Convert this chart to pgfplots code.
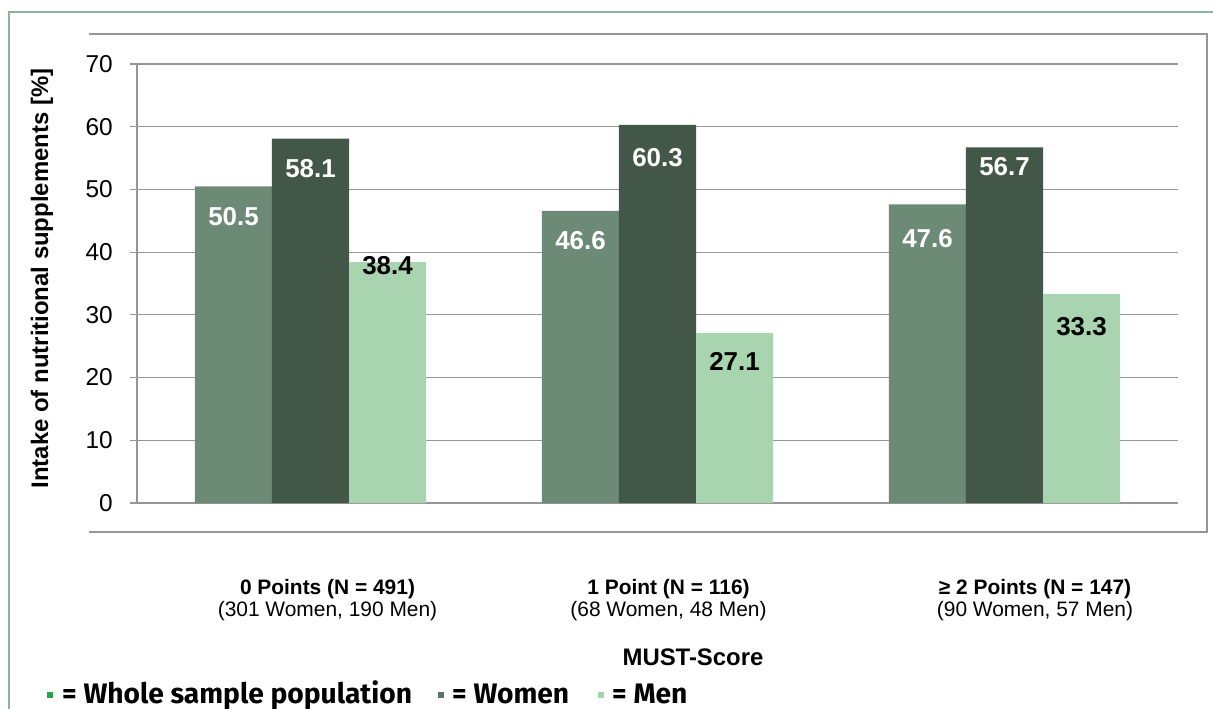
\documentclass[border=0pt]{standalone}
\usepackage{fontspec}
\setmainfont{Liberation Sans}
\newfontfamily\legfont{Fira Sans}
\usepackage{pgfplots}
\pgfplotsset{compat=1.18}
\definecolor{cWhole}{RGB}{108,138,118}
\definecolor{cWomen}{RGB}{66,87,72}
\definecolor{cMen}{RGB}{168,213,176}
\definecolor{cGrid}{RGB}{150,150,150}
\definecolor{cFrame}{RGB}{150,150,150}
\definecolor{cGreen}{RGB}{140,178,152}
\definecolor{cLeg}{RGB}{40,165,75}
\begin{document}
\begin{tikzpicture}[x=1bp,y=1bp]
\draw[cGreen, line width=1.5bp] (9,-709) -- (9,-12) -- (1213,-12);
\draw[cFrame, line width=1.5bp] (89,-34) -- (1207,-34) -- (1207,-532) -- (89,-532);
\begin{axis}[
  at={(137bp,-503bp)}, anchor=south west,
  scale only axis, width=1041bp, height=439bp,
  xmin=-0.5, xmax=2.5, ymin=0, ymax=70,
  axis x line*=bottom, axis y line*=left,
  axis line style={cGrid, line width=1.2bp, -},
  ytick={0,10,...,70}, ymajorgrids,
  grid style={cGrid, line width=1.2bp},
  tick align=outside, major tick length=7bp,
  ytick style={cGrid, line width=1.2bp},
  xtick=\empty,
  yticklabel style={font=\fontsize{24.5}{24.5}\selectfont, inner sep=0pt, xshift=-17bp},
  /pgf/number format/assume math mode=true,
  clip=false,
  ybar, bar width=0.222,
]
\addplot[fill=cWhole, draw=none, bar shift=-0.222] coordinates {(0,50.5) (1,46.6) (2,47.6)};
\addplot[fill=cWomen, draw=none, bar shift=0] coordinates {(0,58.1) (1,60.3) (2,56.7)};
\addplot[fill=cMen, draw=none, bar shift=0.222] coordinates {(0,38.4) (1,27.1) (2,33.3)};
\begin{scope}[every node/.style={font=\bfseries\fontsize{26}{26}\selectfont, inner sep=0pt}]
\node[white] at (axis cs:-0.222,45.6) {50.5};
\node[white] at (axis cs:0,53.4) {58.1};
\node[black] at (axis cs:0.222,37.8) {38.4};
\node[white] at (axis cs:0.778,41.9) {46.6};
\node[white] at (axis cs:1,55.0) {60.3};
\node[black] at (axis cs:1.222,22.6) {27.1};
\node[white] at (axis cs:1.778,42.1) {47.6};
\node[white] at (axis cs:2,53.7) {56.7};
\node[black] at (axis cs:2.222,28.2) {33.3};
\end{scope}
\end{axis}
\node[rotate=90, font=\bfseries\fontsize{24}{24}\selectfont, inner sep=0pt] at (42,-278.5) {Intake of nutritional supplements [\%]};
\begin{scope}[every node/.style={inner sep=0pt, anchor=base}]
\node[font=\bfseries\fontsize{21}{21}\selectfont] at (327.5,-594) {0 Points (N = 491)};
\node[font=\fontsize{21}{21}\selectfont] at (327.5,-616) {(301 Women, 190 Men)};
\node[font=\bfseries\fontsize{21}{21}\selectfont] at (668.5,-594) {1 Point (N = 116)};
\node[font=\fontsize{21}{21}\selectfont] at (668.5,-616) {(68 Women, 48 Men)};
\node[font=\bfseries\fontsize{21}{21}\selectfont] at (1035,-594) {≥ 2 Points (N = 147)};
\node[font=\fontsize{21}{21}\selectfont] at (1035,-616) {(90 Women, 57 Men)};
\node[font=\bfseries\fontsize{24}{24}\selectfont] at (693,-665) {MUST-Score};
\end{scope}
\begin{scope}[every node/.style={inner sep=0pt}]
\node[fill=cLeg, minimum size=6bp] at (50,-695) {};
\node[anchor=base west, font=\legfont\bfseries\fontsize{28.3}{28}\selectfont] at (62,-703) {= Whole sample population};
\node[fill=cWomen!85!white, minimum size=6bp] at (441,-695) {};
\node[anchor=base west, font=\legfont\bfseries\fontsize{28.3}{28}\selectfont] at (452,-703) {= Women};
\node[fill=cMen, minimum size=6bp] at (601,-695) {};
\node[anchor=base west, font=\legfont\bfseries\fontsize{28.3}{28}\selectfont] at (612,-703) {= Men};
\end{scope}
\pgfresetboundingbox
\useasboundingbox (0,0) rectangle (1213,-709);
\end{tikzpicture}
\end{document}
